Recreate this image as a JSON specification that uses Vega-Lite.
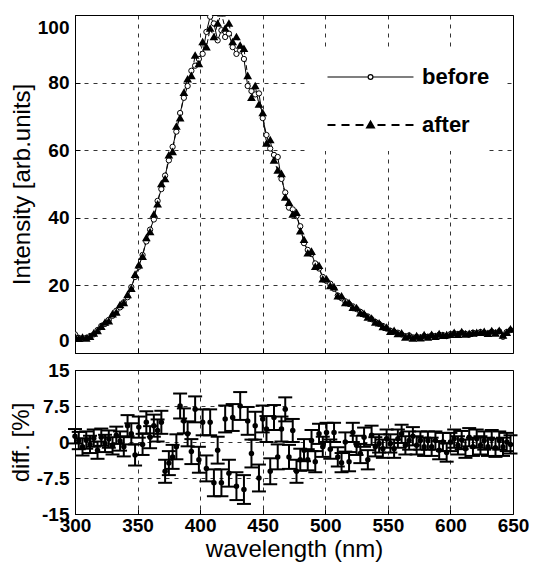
{
"$schema": "https://vega.github.io/schema/vega-lite/v6.json",
"background": "white",
"padding": {"left": 8, "top": 14, "right": 0, "bottom": 0},
"bounds": "flush",
"spacing": 17,
"datasets": {"spectra": [
{"wavelength":300,"before":5.5,"after":4.8,"diff":1.2,"err":1.5},
{"wavelength":303,"before":4.5,"after":4.2,"diff":0.3,"err":1.8},
{"wavelength":306,"before":4.3,"after":4.6,"diff":-1.0,"err":1.8},
{"wavelength":309,"before":4.5,"after":4.3,"diff":0.4,"err":1.8},
{"wavelength":312,"before":5.0,"after":4.8,"diff":-0.5,"err":1.8},
{"wavelength":315,"before":5.5,"after":5.8,"diff":0.8,"err":1.8},
{"wavelength":318,"before":6.8,"after":6.5,"diff":-1.7,"err":1.8},
{"wavelength":321,"before":8.0,"after":7.8,"diff":1.0,"err":1.8},
{"wavelength":324,"before":8.6,"after":9.0,"diff":-0.3,"err":1.8},
{"wavelength":327,"before":9.8,"after":9.4,"diff":0.6,"err":1.8},
{"wavelength":330,"before":11.0,"after":11.5,"diff":-0.8,"err":1.8},
{"wavelength":333,"before":12.5,"after":12.0,"diff":1.4,"err":1.8},
{"wavelength":336,"before":13.5,"after":14.2,"diff":0.2,"err":2.0},
{"wavelength":339,"before":15.0,"after":14.8,"diff":-1.0,"err":2.0},
{"wavelength":342,"before":16.5,"after":17.2,"diff":3.4,"err":2.2},
{"wavelength":345,"before":19.5,"after":19.0,"diff":1.7,"err":2.2},
{"wavelength":348,"before":22.5,"after":23.2,"diff":-2.7,"err":2.2},
{"wavelength":351,"before":25.5,"after":26.0,"diff":3.1,"err":2.2},
{"wavelength":354,"before":29.0,"after":28.5,"diff":-0.5,"err":2.2},
{"wavelength":357,"before":33.0,"after":34.0,"diff":4.1,"err":2.3},
{"wavelength":360,"before":36.5,"after":35.8,"diff":1.0,"err":2.3},
{"wavelength":363,"before":39.5,"after":41.0,"diff":3.4,"err":2.3},
{"wavelength":366,"before":45.0,"after":44.0,"diff":2.4,"err":2.3},
{"wavelength":369,"before":48.5,"after":50.0,"diff":4.1,"err":2.4},
{"wavelength":372,"before":52.5,"after":51.5,"diff":-6.1,"err":2.4},
{"wavelength":375,"before":57.0,"after":58.5,"diff":-4.4,"err":2.5},
{"wavelength":378,"before":61.0,"after":59.5,"diff":-3.1,"err":2.5},
{"wavelength":381,"before":65.5,"after":67.0,"diff":-1.0,"err":2.6},
{"wavelength":384,"before":71.0,"after":69.5,"diff":7.5,"err":2.6},
{"wavelength":387,"before":75.5,"after":77.0,"diff":4.4,"err":2.6},
{"wavelength":390,"before":79.0,"after":81.0,"diff":1.7,"err":2.6},
{"wavelength":393,"before":83.5,"after":82.0,"diff":-2.0,"err":2.6},
{"wavelength":396,"before":85.0,"after":88.0,"diff":6.8,"err":2.7},
{"wavelength":399,"before":87.0,"after":85.5,"diff":-3.7,"err":2.7},
{"wavelength":402,"before":88.5,"after":92.0,"diff":4.1,"err":2.7},
{"wavelength":405,"before":95.0,"after":90.5,"diff":-5.5,"err":2.7},
{"wavelength":408,"before":99.5,"after":96.0,"diff":4.1,"err":2.7},
{"wavelength":411,"before":97.5,"after":93.5,"diff":-8.5,"err":2.8},
{"wavelength":414,"before":92.5,"after":97.5,"diff":-1.7,"err":2.8},
{"wavelength":417,"before":95.5,"after":100.5,"diff":-8.5,"err":2.8},
{"wavelength":420,"before":93.5,"after":96.0,"diff":4.8,"err":2.8},
{"wavelength":423,"before":94.5,"after":97.5,"diff":-6.5,"err":2.8},
{"wavelength":426,"before":90.5,"after":92.0,"diff":5.1,"err":2.8},
{"wavelength":429,"before":88.5,"after":93.5,"diff":-9.2,"err":2.9},
{"wavelength":432,"before":89.5,"after":91.0,"diff":7.5,"err":2.9},
{"wavelength":435,"before":87.0,"after":90.0,"diff":-9.9,"err":3.0},
{"wavelength":438,"before":79.0,"after":82.0,"diff":4.4,"err":2.9},
{"wavelength":441,"before":77.5,"after":75.5,"diff":-2.4,"err":2.9},
{"wavelength":444,"before":76.5,"after":79.0,"diff":3.4,"err":2.9},
{"wavelength":447,"before":76.8,"after":73.5,"diff":-7.5,"err":2.8},
{"wavelength":450,"before":69.5,"after":71.0,"diff":4.8,"err":2.8},
{"wavelength":453,"before":64.5,"after":62.0,"diff":2.7,"err":2.7},
{"wavelength":456,"before":60.5,"after":63.0,"diff":-6.1,"err":2.7},
{"wavelength":459,"before":58.6,"after":57.0,"diff":5.1,"err":2.6},
{"wavelength":462,"before":58.0,"after":54.0,"diff":-3.1,"err":2.6},
{"wavelength":465,"before":51.5,"after":53.0,"diff":2.7,"err":2.6},
{"wavelength":468,"before":47.5,"after":46.0,"diff":6.8,"err":2.5},
{"wavelength":471,"before":43.0,"after":44.5,"diff":-3.1,"err":2.5},
{"wavelength":474,"before":42.5,"after":41.0,"diff":2.4,"err":2.4},
{"wavelength":477,"before":40.5,"after":41.5,"diff":-6.1,"err":2.4},
{"wavelength":480,"before":37.5,"after":36.0,"diff":-3.7,"err":2.3},
{"wavelength":483,"before":32.5,"after":33.5,"diff":-1.7,"err":2.3},
{"wavelength":486,"before":30.5,"after":29.5,"diff":-3.7,"err":2.2},
{"wavelength":489,"before":29.3,"after":30.0,"diff":0.3,"err":2.2},
{"wavelength":492,"before":26.5,"after":25.5,"diff":-4.1,"err":2.2},
{"wavelength":495,"before":25.0,"after":25.8,"diff":1.7,"err":2.1},
{"wavelength":498,"before":22.5,"after":21.8,"diff":-1.0,"err":2.1},
{"wavelength":501,"before":21.3,"after":21.8,"diff":2.0,"err":2.0},
{"wavelength":504,"before":20.5,"after":19.8,"diff":-1.5,"err":2.0},
{"wavelength":507,"before":19.0,"after":19.5,"diff":2.0,"err":2.0},
{"wavelength":510,"before":17.0,"after":16.8,"diff":-3.1,"err":2.0},
{"wavelength":513,"before":16.2,"after":16.8,"diff":-4.3,"err":2.0},
{"wavelength":516,"before":15.3,"after":14.8,"diff":0.0,"err":2.0},
{"wavelength":519,"before":14.5,"after":14.8,"diff":-4.1,"err":2.0},
{"wavelength":522,"before":13.8,"after":13.4,"diff":2.0,"err":2.0},
{"wavelength":525,"before":13.0,"after":13.3,"diff":-0.7,"err":2.0},
{"wavelength":528,"before":12.2,"after":11.8,"diff":-2.4,"err":2.0},
{"wavelength":531,"before":11.3,"after":11.6,"diff":1.0,"err":2.0},
{"wavelength":534,"before":10.8,"after":10.5,"diff":-3.7,"err":2.0},
{"wavelength":537,"before":10.0,"after":10.2,"diff":1.4,"err":2.0},
{"wavelength":540,"before":9.2,"after":9.0,"diff":-1.0,"err":2.0},
{"wavelength":543,"before":8.6,"after":8.8,"diff":-0.3,"err":1.9},
{"wavelength":546,"before":8.0,"after":7.7,"diff":-1.4,"err":1.9},
{"wavelength":549,"before":7.2,"after":7.5,"diff":0.7,"err":1.9},
{"wavelength":552,"before":6.6,"after":6.3,"diff":-0.3,"err":1.9},
{"wavelength":555,"before":6.3,"after":6.6,"diff":-1.4,"err":1.9},
{"wavelength":558,"before":6.0,"after":5.6,"diff":0.7,"err":1.9},
{"wavelength":561,"before":5.5,"after":5.8,"diff":1.7,"err":1.9},
{"wavelength":564,"before":5.0,"after":4.6,"diff":-0.7,"err":1.9},
{"wavelength":567,"before":5.2,"after":5.0,"diff":0.3,"err":1.9},
{"wavelength":570,"before":4.6,"after":4.3,"diff":1.2,"err":1.9},
{"wavelength":573,"before":4.8,"after":5.0,"diff":-0.7,"err":1.9},
{"wavelength":576,"before":4.6,"after":4.4,"diff":0.3,"err":1.9},
{"wavelength":579,"before":5.0,"after":5.3,"diff":-1.0,"err":1.9},
{"wavelength":582,"before":4.8,"after":4.6,"diff":0.3,"err":1.9},
{"wavelength":585,"before":5.2,"after":5.4,"diff":-1.0,"err":1.9},
{"wavelength":588,"before":5.0,"after":4.8,"diff":0.3,"err":1.9},
{"wavelength":591,"before":5.4,"after":5.6,"diff":-1.7,"err":1.9},
{"wavelength":594,"before":5.3,"after":5.1,"diff":0.0,"err":1.9},
{"wavelength":597,"before":5.0,"after":5.3,"diff":-2.2,"err":1.9},
{"wavelength":600,"before":5.6,"after":5.4,"diff":0.0,"err":1.9},
{"wavelength":603,"before":5.8,"after":6.0,"diff":0.7,"err":1.9},
{"wavelength":606,"before":5.6,"after":5.4,"diff":-0.7,"err":1.9},
{"wavelength":609,"before":6.0,"after":6.2,"diff":0.4,"err":1.9},
{"wavelength":612,"before":5.7,"after":5.5,"diff":-1.4,"err":1.9},
{"wavelength":615,"before":5.4,"after":5.7,"diff":1.0,"err":1.9},
{"wavelength":618,"before":6.0,"after":5.8,"diff":-1.0,"err":1.9},
{"wavelength":621,"before":5.8,"after":6.0,"diff":0.7,"err":1.9},
{"wavelength":624,"before":6.2,"after":6.0,"diff":-0.7,"err":1.9},
{"wavelength":627,"before":6.0,"after":6.3,"diff":0.3,"err":1.9},
{"wavelength":630,"before":5.8,"after":5.7,"diff":-1.0,"err":1.9},
{"wavelength":633,"before":6.3,"after":6.5,"diff":0.6,"err":1.9},
{"wavelength":636,"before":6.0,"after":5.8,"diff":-1.2,"err":1.9},
{"wavelength":639,"before":6.4,"after":6.6,"diff":0.3,"err":1.9},
{"wavelength":642,"before":4.8,"after":5.2,"diff":-1.0,"err":1.9},
{"wavelength":645,"before":6.2,"after":6.0,"diff":0.0,"err":1.9},
{"wavelength":648,"before":6.8,"after":7.0,"diff":-0.5,"err":1.9}
]},
"config": {
  "font": "Liberation Sans",
  "view": {"stroke": "black", "strokeWidth": 1},
  "axis": {
    "domain": false,
    "grid": true, "gridColor": "black", "gridDash": [4, 5], "gridWidth": 0.8, "gridOpacity": 1,
    "ticks": true, "tickColor": "black", "tickSize": -5, "tickWidth": 1,
    "labelFont": "Liberation Sans", "labelFontWeight": "bold", "labelFontSize": 19, "labelColor": "black", "labelPadding": 11,
    "titleFont": "Liberation Sans", "titleFontWeight": "normal", "titleFontSize": 24, "titleColor": "black", "titlePadding": 3
  },
  "axisX": {"labelFlush": false, "labelPadding": 7, "titlePadding": 2},
  "legend": {
    "title": null, "orient": "none", "direction": "vertical", "padding": 15, "fillColor": "white",
    "symbolSize": 144, "labelOffset": 77.5,
    "labelFont": "Liberation Sans", "labelFontWeight": "bold", "labelFontSize": 22, "labelColor": "black"
  }
},
"resolve": {"scale": {"fill": "independent", "stroke": "independent"}, "legend": {"fill": "independent", "stroke": "independent"}},
"vconcat": [
  {
    "width": 438, "height": 338,
    "data": {"name": "spectra"},
    "encoding": {
      "x": {"field": "wavelength", "type": "quantitative", "scale": {"domain": [300, 650], "nice": false, "zero": false},
            "axis": {"values": [300, 350, 400, 450, 500, 550, 600, 650], "labels": false, "title": null}}
    },
    "layer": [
      {
        "mark": {"type": "line", "color": "black", "strokeWidth": 1, "clip": true},
        "encoding": {
          "y": {"field": "before", "type": "quantitative", "scale": {"domain": [0, 100], "nice": false},
                "axis": {"values": [0, 20, 40, 60, 80, 100], "title": "Intensity [arb.units]", "labelFlush": true, "labelFlushOffset": -3}}
        }
      },
      {
        "mark": {"type": "line", "color": "black", "strokeWidth": 1, "strokeDash": [5, 3], "clip": true},
        "encoding": {
          "y": {"field": "after", "type": "quantitative", "scale": {"domain": [0, 100], "nice": false},
                "axis": {"values": [0, 20, 40, 60, 80, 100], "title": "Intensity [arb.units]", "labelFlush": true, "labelFlushOffset": -3}}
        }
      },
      {
        "mark": {"type": "point", "shape": "circle", "filled": true, "fill": "white", "stroke": "black", "strokeWidth": 1, "size": 28, "opacity": 1, "clip": true},
        "encoding": {
          "y": {"field": "before", "type": "quantitative", "scale": {"domain": [0, 100], "nice": false},
                "axis": {"values": [0, 20, 40, 60, 80, 100], "title": "Intensity [arb.units]", "labelFlush": true, "labelFlushOffset": -3}},
          "fill": {"datum": "before", "type": "nominal", "scale": {"range": ["white"]},
            "legend": {
              "legendX": 232.5, "legendY": 36,
              "symbolType": "M-1,0H5.77M6.57,0H13.33M6.57,0A0.4,0.4 0 1 1 5.77,0A0.4,0.4 0 1 1 6.57,0Z",
              "symbolStrokeColor": "black", "symbolStrokeWidth": 1.2
            }}
        }
      },
      {
        "mark": {"type": "point", "shape": "triangle-up", "filled": true, "color": "black", "size": 28, "opacity": 1, "clip": true},
        "encoding": {
          "y": {"field": "after", "type": "quantitative", "scale": {"domain": [0, 100], "nice": false},
                "axis": {"values": [0, 20, 40, 60, 80, 100], "title": "Intensity [arb.units]", "labelFlush": true, "labelFlushOffset": -3}},
          "stroke": {"datum": "after", "type": "nominal", "scale": {"range": ["black"]},
            "legend": {
              "legendX": 232.5, "legendY": 84,
              "symbolType": "M-1,0H0.33M1.33,0H2.67M3.67,0H5M7.33,0H8.67M9.67,0H11M12,0H13.33M6.17,-0.55L6.72,0.4L5.62,0.4Z",
              "symbolFillColor": "black", "symbolStrokeWidth": 2
            }}
        }
      }
    ]
  },
  {
    "width": 438, "height": 144,
    "data": {"name": "spectra"},
    "encoding": {
      "x": {"field": "wavelength", "type": "quantitative", "scale": {"domain": [300, 650], "nice": false, "zero": false},
            "axis": {"values": [300, 350, 400, 450, 500, 550, 600, 650], "title": "wavelength (nm)"}},
      "y": {"field": "diff", "type": "quantitative", "scale": {"domain": [-15, 15], "nice": false},
            "axis": {"values": [-15, -7.5, 0, 7.5, 15], "title": "diff. [%]", "labelExpr": "replace(format(datum.value, '.1~f'), '\u2212', '-')"}}
    },
    "layer": [
      {
        "mark": {"type": "errorbar", "ticks": {"color": "black", "opacity": 1}, "rule": {"color": "black", "opacity": 1}, "size": 14, "thickness": 2, "color": "black", "opacity": 1},
        "encoding": {"yError": {"field": "err"}}
      },
      {
        "mark": {"type": "point", "filled": true, "color": "black", "size": 30, "opacity": 1}
      }
    ]
  }
]
}
